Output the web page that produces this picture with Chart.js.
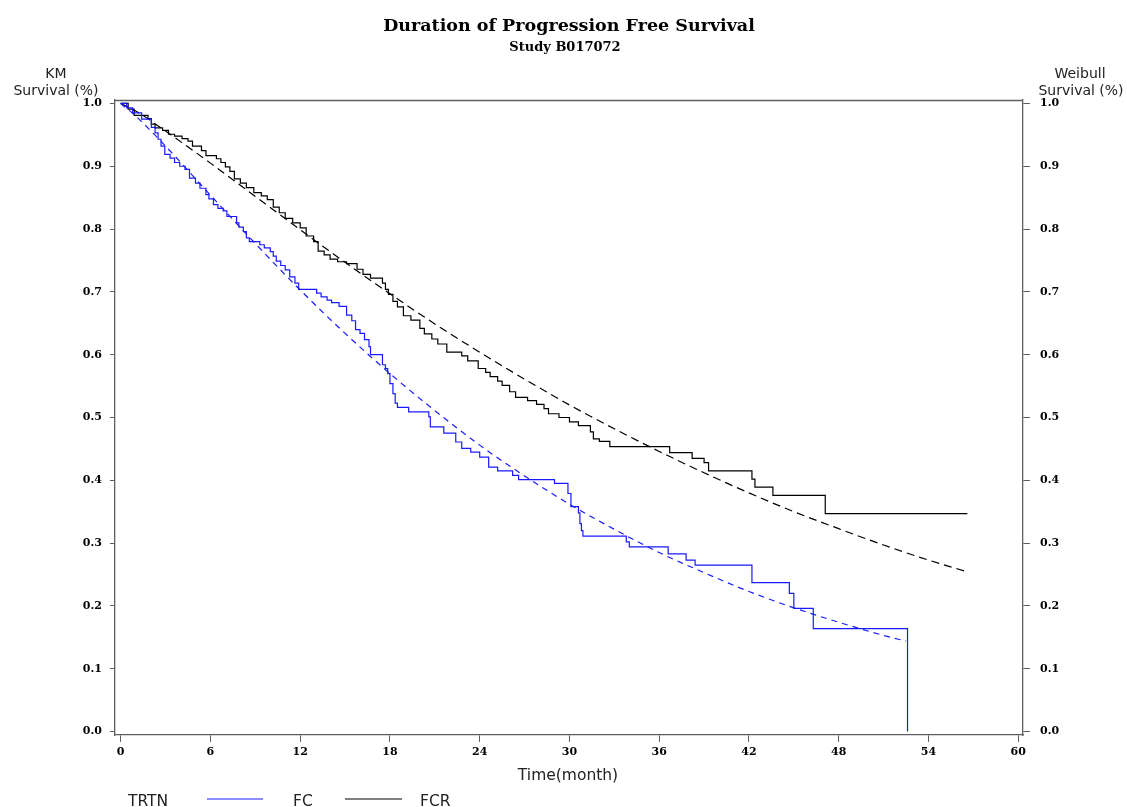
<!DOCTYPE html>
<html><head><meta charset="utf-8">
<script src="https://cdn.jsdelivr.net/npm/chart.js@4.4.1/dist/chart.umd.min.js"></script>
<style>html,body{margin:0;padding:0;background:#fff;}#wrap{width:1127px;height:807px;}</style>
</head><body><div id="wrap"><canvas id="c" width="1127" height="807"></canvas></div>
<script>
// ---- data ----
const seriesNames = ['FC', 'FCR'];
const legendTitle = 'TRTN';
const titleLines = ['Duration of Progression Free Survival', 'Study B017072'];
const xAxisTitle = 'Time(month)';
const leftAxisTitle = ['KM', 'Survival (%)'];
const rightAxisTitle = ['Weibull', 'Survival (%)'];
const xTickValues = [0, 6, 12, 18, 24, 30, 36, 42, 48, 54, 60];
const yTickValues = [0.0, 0.1, 0.2, 0.3, 0.4, 0.5, 0.6, 0.7, 0.8, 0.9, 1.0];

// Kaplan-Meier, FC (time of step, survival after step)
const fcTime = [0, 0.4, 0.8, 1.4, 2.05, 2.3, 2.5, 2.7, 2.95, 3.3, 3.6, 3.95, 4.3, 4.6, 5.0, 5.3, 5.7, 5.9, 6.2, 6.5, 6.85, 7.1, 7.75, 7.9, 8.2, 8.4, 8.6, 9.3, 9.6, 10.0, 10.2, 10.4, 10.7, 11.0, 11.3, 11.65, 11.9, 13.1, 13.4, 13.8, 14.1, 14.6, 15.1, 15.45, 15.7, 16.0, 16.3, 16.6, 16.7, 17.5, 17.7, 17.85, 18.0, 18.2, 18.35, 18.5, 19.25, 20.6, 20.7, 21.6, 22.4, 22.8, 23.4, 24.0, 24.6, 25.2, 26.2, 26.6, 29.0, 29.9, 30.1, 30.6, 30.7, 30.8, 30.9, 33.8, 34.0, 36.6, 37.8, 38.4, 42.2, 44.7, 45.0, 46.3, 52.6];
const fcSurv = [1.0, 0.993, 0.985, 0.975, 0.962, 0.953, 0.943, 0.932, 0.919, 0.913, 0.906, 0.900, 0.895, 0.881, 0.873, 0.865, 0.855, 0.848, 0.839, 0.833, 0.829, 0.820, 0.810, 0.803, 0.796, 0.786, 0.780, 0.775, 0.770, 0.764, 0.757, 0.749, 0.742, 0.735, 0.724, 0.714, 0.704, 0.698, 0.692, 0.687, 0.683, 0.677, 0.663, 0.654, 0.640, 0.634, 0.624, 0.613, 0.600, 0.584, 0.578, 0.570, 0.554, 0.538, 0.523, 0.516, 0.509, 0.501, 0.485, 0.475, 0.461, 0.451, 0.445, 0.437, 0.421, 0.415, 0.408, 0.401, 0.395, 0.379, 0.358, 0.348, 0.331, 0.320, 0.311, 0.302, 0.294, 0.283, 0.273, 0.265, 0.237, 0.220, 0.196, 0.164, 0.0];

// Kaplan-Meier, FCR
const fcrTime = [0, 0.5, 0.9, 1.83, 2.05, 2.3, 2.8, 3.2, 3.6, 4.1, 4.5, 4.8, 5.4, 5.7, 6.4, 6.7, 7.0, 7.3, 7.6, 8.0, 8.4, 8.9, 9.4, 9.8, 10.2, 10.6, 11.0, 11.5, 12.0, 12.4, 12.9, 13.2, 13.6, 14.0, 14.5, 15.1, 15.8, 16.2, 16.7, 17.5, 17.7, 17.9, 18.2, 18.5, 18.9, 19.4, 20.0, 20.3, 20.8, 21.2, 21.8, 22.8, 23.2, 23.9, 24.4, 24.7, 25.2, 25.5, 26.0, 26.4, 27.2, 27.8, 28.3, 28.6, 29.3, 30.0, 30.6, 31.4, 31.6, 32.0, 32.7, 36.7, 38.2, 39.0, 39.3, 42.2, 42.4, 43.6, 47.1, 56.6];
const fcrSurv = [1.0, 0.991, 0.981, 0.976, 0.967, 0.961, 0.957, 0.951, 0.948, 0.944, 0.940, 0.932, 0.925, 0.917, 0.912, 0.906, 0.899, 0.892, 0.880, 0.873, 0.866, 0.858, 0.853, 0.847, 0.835, 0.826, 0.817, 0.810, 0.802, 0.789, 0.780, 0.765, 0.759, 0.752, 0.748, 0.745, 0.736, 0.728, 0.722, 0.714, 0.704, 0.696, 0.685, 0.676, 0.662, 0.655, 0.642, 0.633, 0.625, 0.617, 0.604, 0.598, 0.590, 0.578, 0.572, 0.565, 0.558, 0.551, 0.541, 0.532, 0.527, 0.521, 0.514, 0.506, 0.500, 0.493, 0.487, 0.477, 0.466, 0.462, 0.4535, 0.444, 0.435, 0.428, 0.415, 0.402, 0.389, 0.376, 0.347, 0.347];

// Weibull fitted curves
const fcWeibullTime = [0, 1, 3, 6, 9, 12, 15, 18, 21, 24, 27, 30, 33, 36, 39, 42, 45, 48, 51, 52.5];
const fcWeibullSurv = [1.0, 0.980, 0.932, 0.854, 0.777, 0.703, 0.634, 0.570, 0.511, 0.456, 0.407, 0.362, 0.322, 0.285, 0.253, 0.223, 0.197, 0.174, 0.153, 0.144];
const fcrWeibullTime = [0, 1, 3, 6, 9, 12, 15, 18, 21, 24, 27, 30, 33, 36, 39, 42, 45, 48, 51, 54, 56.5];
const fcrWeibullSurv = [1.0, 0.988, 0.956, 0.905, 0.852, 0.799, 0.747, 0.697, 0.649, 0.604, 0.561, 0.520, 0.482, 0.446, 0.412, 0.380, 0.350, 0.323, 0.297, 0.273, 0.255];

// ---- chart ----
const toXY = (xs, ys) => xs.map((x, i) => ({x: x, y: ys[i]}));
const blue = '#1a1aff';
const black = '#000000';
const axisColor = '#606060';
const tickFont = {family: 'DejaVu Serif', weight: 'bold', size: 11};
const sansFont = 'DejaVu Sans';

const decor = {
  id: 'decor',
  afterDraw(chart) {
    const ctx = chart.ctx, a = chart.chartArea;
    ctx.save();
    // top frame line
    ctx.strokeStyle = axisColor; ctx.lineWidth = 1.3;
    ctx.beginPath(); ctx.moveTo(a.left, a.top + 0.5); ctx.lineTo(a.right, a.top + 0.5); ctx.stroke();
    // titles
    ctx.fillStyle = '#000'; ctx.textAlign = 'center'; ctx.textBaseline = 'alphabetic';
    ctx.font = 'bold 17.5px "DejaVu Serif"';
    ctx.fillText(titleLines[0], 569, 31);
    ctx.font = 'bold 13px "DejaVu Serif"';
    ctx.fillText(titleLines[1], 565, 51);
    // axis titles
    ctx.fillStyle = '#222';
    ctx.font = '14px "' + sansFont + '"';
    ctx.fillText(leftAxisTitle[0], 56, 78);
    ctx.fillText(leftAxisTitle[1], 56, 95);
    ctx.fillText(rightAxisTitle[0], 1080, 78);
    ctx.fillText(rightAxisTitle[1], 1081, 95);
    ctx.font = '15.5px "' + sansFont + '"';
    ctx.fillText(xAxisTitle, 568, 780);
    // legend
    ctx.textAlign = 'left';
    ctx.fillText(legendTitle, 128, 806);
    const ds = chart.data.datasets;
    const items = [{x1: 207, x2: 263, tx: 293}, {x1: 345, x2: 402, tx: 420}];
    items.forEach((it, i) => {
      ctx.strokeStyle = ds[i].borderColor; ctx.lineWidth = 1.2;
      ctx.beginPath(); ctx.moveTo(it.x1, 799); ctx.lineTo(it.x2, 799); ctx.stroke();
      ctx.fillStyle = '#222';
      ctx.fillText(seriesNames[i], it.tx, 806);
    });
    ctx.restore();
  }
};

const yScaleBase = {
  type: 'linear', min: -0.0055, max: 1.0055,
  afterBuildTicks: s => { s.ticks = yTickValues.map(v => ({value: v})); },
  border: {color: axisColor, width: 1.3},
};

new Chart(document.getElementById('c'), {
  type: 'line',
  data: {
    datasets: [
      {label: seriesNames[0], data: toXY(fcTime, fcSurv), borderColor: blue, borderWidth: 1.2, stepped: 'before', pointRadius: 0, fill: false, yAxisID: 'y'},
      {label: seriesNames[1], data: toXY(fcrTime, fcrSurv), borderColor: black, borderWidth: 1.2, stepped: 'before', pointRadius: 0, fill: false, yAxisID: 'y'},
      {label: seriesNames[0] + ' Weibull', data: toXY(fcWeibullTime, fcWeibullSurv), borderColor: blue, borderWidth: 1.2, borderDash: [6, 5], cubicInterpolationMode: 'monotone', pointRadius: 0, fill: false, yAxisID: 'y2'},
      {label: seriesNames[1] + ' Weibull', data: toXY(fcrWeibullTime, fcrWeibullSurv), borderColor: black, borderWidth: 1.2, borderDash: [8, 5], cubicInterpolationMode: 'monotone', pointRadius: 0, fill: false, yAxisID: 'y2'}
    ]
  },
  options: {
    responsive: false, animation: false, devicePixelRatio: 1,
    layout: {padding: {top: 100, left: 0, right: 0, bottom: 0}},
    plugins: {legend: {display: false}, tooltip: {enabled: false}, title: {display: false}},
    scales: {
      x: {
        type: 'linear', position: 'bottom', min: -0.38, max: 60.32,
        afterBuildTicks: s => { s.ticks = xTickValues.map(v => ({value: v})); },
        afterFit: s => { s.height = 72; },
        ticks: {font: tickFont, color: '#000', padding: 4, maxRotation: 0, autoSkip: false, callback: v => String(v)},
        grid: {drawOnChartArea: false, drawTicks: true, tickLength: 7, color: axisColor},
        border: {color: axisColor, width: 1.3}
      },
      y: Object.assign({}, yScaleBase, {
        position: 'left',
        afterFit: s => { s.width = 115; },
        ticks: {font: tickFont, color: '#000', padding: 8, callback: v => v.toFixed(1)},
        grid: {drawOnChartArea: false, drawTicks: true, tickLength: 5, color: axisColor}
      }),
      y2: Object.assign({}, yScaleBase, {
        position: 'right',
        afterFit: s => { s.width = 104; },
        ticks: {font: tickFont, color: '#000', padding: 10, callback: v => v.toFixed(1)},
        grid: {drawOnChartArea: false, drawTicks: true, tickLength: 7, color: axisColor}
      })
    }
  },
  plugins: [decor]
});
</script>
</body></html>
